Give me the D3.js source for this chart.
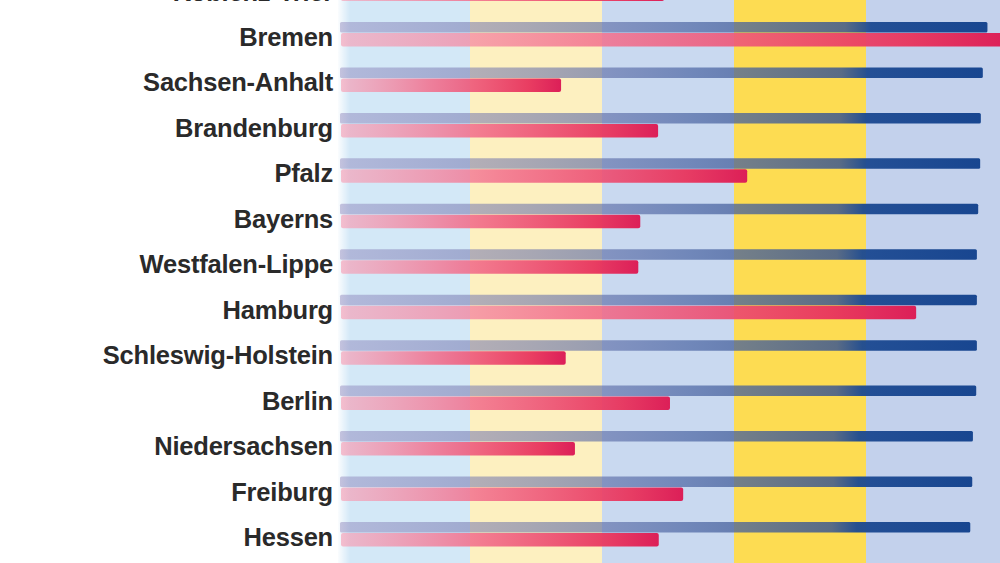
<!DOCTYPE html>
<html><head><meta charset="utf-8">
<script src="https://cdn.jsdelivr.net/npm/d3@7"></script>
<style>body{margin:0;background:#fff;overflow:hidden} svg{display:block}</style>
</head><body><svg id="c" width="1000" height="563"></svg>
<script>
// ---- data ----
const regions = ["Koblenz-Trier","Bremen","Sachsen-Anhalt","Brandenburg","Pfalz","Bayerns","Westfalen-Lippe","Hamburg","Schleswig-Holstein","Berlin","Niedersachsen","Freiburg","Hessen"];
const blueValues = [98.6, 98.4, 97.7, 97.4, 97.3, 97.0, 96.8, 96.8, 96.8, 96.7, 96.2, 96.1, 95.8];
const pinkValues = [49.4, 101.5, 33.8, 48.5, 62.0, 45.8, 45.5, 87.6, 34.5, 50.3, 35.9, 52.3, 48.6];
const bandBreaks = [0, 20, 40, 60, 80, 100];

// ---- drawing ----
const W = 1000, H = 563;
const svg = d3.select("#c");
const x = d3.scaleLinear().domain([0, 100]).range([338, 998]);
const y = d3.scaleBand().domain(regions).range([-32.2, 558.7]).padding(0);
const bandColors = ["#d3e8f7", "#fdf0c0", "#c9d9f0", "#fddc52", "#c3d1ec"];

const defs = svg.append("defs");
const lg0 = defs.append("linearGradient").attr("id", "leftFade").attr("x1", 0).attr("x2", 1);
lg0.append("stop").attr("offset", 0).attr("stop-color", "#ffffff").attr("stop-opacity", 0.9);
lg0.append("stop").attr("offset", 1).attr("stop-color", "#ffffff").attr("stop-opacity", 0);

const bg = defs.append("linearGradient").attr("id", "blueGrad").attr("x1", 0).attr("x2", 1);
[[0, "#8a80b8", 0.45], [0.3, "#6a72aa", 0.58], [0.55, "#4a64a2", 0.7], [0.78, "#3a5690", 0.84], [0.82, "#1d4a92", 0.96], [1, "#184690", 1]]
  .forEach(s => bg.append("stop").attr("offset", s[0]).attr("stop-color", s[1]).attr("stop-opacity", s[2]));
const pg = defs.append("linearGradient").attr("id", "pinkGrad").attr("x1", 0).attr("x2", 1);
[[0, "#f7a0b6", 0.65], [0.4, "#f26e8c", 0.85], [0.85, "#e8365e", 0.96], [1, "#dc1f58", 1]]
  .forEach(s => pg.append("stop").attr("offset", s[0]).attr("stop-color", s[1]).attr("stop-opacity", s[2]));

// background bands
const bands = d3.pairs(bandBreaks).map((p, i) => ({ a: p[0], b: p[1], i }));
svg.append("g").selectAll("rect").data(bands).join("rect")
  .attr("x", d => x(d.a))
  .attr("width", d => (d.i === bands.length - 1 ? W : x(d.b)) - x(d.a))
  .attr("y", 0).attr("height", H)
  .attr("fill", d => bandColors[d.i]);
svg.append("rect").attr("x", x(0)).attr("y", 0).attr("width", 12).attr("height", H).attr("fill", "url(#leftFade)");

const rows = regions.map((r, i) => ({ r, blue: blueValues[i], pink: pinkValues[i], c: y(r) + y.bandwidth() / 2 }));

const g = svg.append("g");
g.selectAll(".blue").data(rows).join("rect").attr("class", "blue")
  .attr("x", x(0) + 2).attr("width", d => x(d.blue) - x(0) - 2)
  .attr("y", d => d.c - 14).attr("height", 10.5)
  .attr("rx", 1.5)
  .attr("fill", "url(#blueGrad)");
g.selectAll(".pink").data(rows).join("rect").attr("class", "pink")
  .attr("x", x(0) + 3).attr("width", d => x(d.pink) - x(0) - 3)
  .attr("y", d => d.c - 3).attr("height", 13.5)
  .attr("rx", 2)
  .attr("fill", "url(#pinkGrad)");

svg.append("g").selectAll("text").data(rows).join("text")
  .attr("x", 333).attr("y", d => d.c + 1)
  .attr("text-anchor", "end").attr("dominant-baseline", "central")
  .attr("font-family", "'Liberation Sans', Arial, sans-serif")
  .attr("font-weight", "bold").attr("font-size", 25.5)
  .attr("letter-spacing", -0.2)
  .attr("fill", "#2a2a2a")
  .text(d => d.r);
</script>
</body></html>
